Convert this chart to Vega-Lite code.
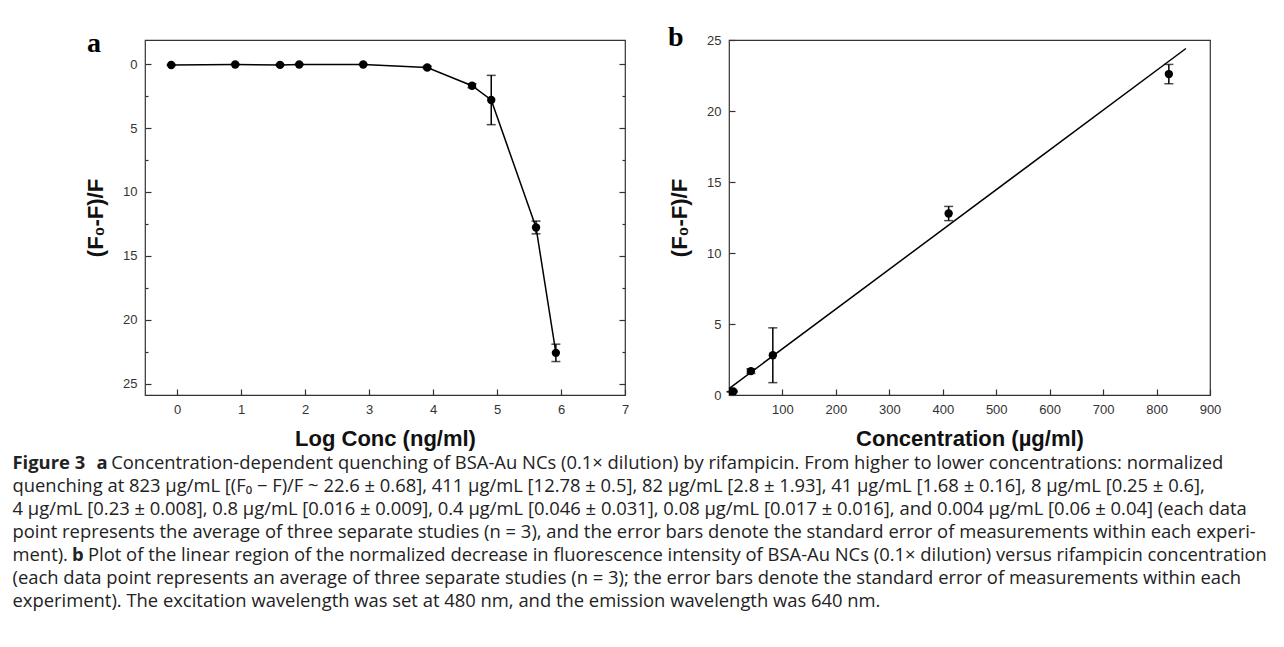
{
  "$schema": "https://vega.github.io/schema/vega-lite/v6.json",
  "background": "white",
  "padding": {"left": 12, "top": 23, "right": 5, "bottom": 5},
  "bounds": "flush",
  "spacing": 412,
  "config": {
    "view": {"stroke": "#333", "strokeWidth": 1.2},
    "axis": {
      "labelFont": "Liberation Sans", "labelFontSize": 13, "labelColor": "#333",
      "titleFont": "Liberation Sans", "titleFontWeight": "bold", "titleFontSize": 22, "titleColor": "#111",
      "domain": false, "grid": false, "tickColor": "#333", "tickWidth": 1.2,
      "labelFlush": false, "labelOverlap": false
    }
  },
  "datasets": {
    "logdata": [
      {"logc": -0.09, "val": 0.06, "lo": 0.02, "hi": 0.10},
      {"logc": 0.91, "val": 0.02, "lo": -0.01, "hi": 0.05},
      {"logc": 1.61, "val": 0.05, "lo": 0.01, "hi": 0.09},
      {"logc": 1.91, "val": 0.02, "lo": -0.01, "hi": 0.05},
      {"logc": 2.91, "val": 0.02, "lo": -0.01, "hi": 0.05},
      {"logc": 3.91, "val": 0.25, "lo": 0.15, "hi": 0.35},
      {"logc": 4.61, "val": 1.68, "lo": 1.52, "hi": 1.84},
      {"logc": 4.91, "val": 2.8, "lo": 0.87, "hi": 4.73},
      {"logc": 5.61, "val": 12.78, "lo": 12.28, "hi": 13.28},
      {"logc": 5.92, "val": 22.6, "lo": 21.92, "hi": 23.28}
    ],
    "lindata": [
      {"conc": 4, "val": 0.23, "lo": 0.22, "hi": 0.24},
      {"conc": 8, "val": 0.25, "lo": 0.2, "hi": 0.3},
      {"conc": 41, "val": 1.68, "lo": 1.52, "hi": 1.84},
      {"conc": 82, "val": 2.8, "lo": 0.87, "hi": 4.73},
      {"conc": 411, "val": 12.78, "lo": 12.28, "hi": 13.28},
      {"conc": 823, "val": 22.6, "lo": 21.92, "hi": 23.28}
    ],
    "fit": [
      {"conc": 0, "val": 0.45},
      {"conc": 855, "val": 24.4}
    ],
    "caption": [
      {"line": 1, "part": "B0", "t": "Figure 3"},
      {"line": 1, "part": "B1", "t": "a"},
      {"line": 1, "part": "R1", "t": "Concentration-dependent quenching of BSA-Au NCs (0.1× dilution) by rifampicin. From higher to lower concentrations: normalized"},
      {"line": 2, "part": "R0", "t": "quenching at 823 µg/mL [(F₀ − F)/F ~ 22.6 ± 0.68], 411 µg/mL [12.78 ± 0.5], 82 µg/mL [2.8 ± 1.93], 41 µg/mL [1.68 ± 0.16], 8 µg/mL [0.25 ± 0.6],"},
      {"line": 3, "part": "R0", "t": "4 µg/mL [0.23 ± 0.008], 0.8 µg/mL [0.016 ± 0.009], 0.4 µg/mL [0.046 ± 0.031], 0.08 µg/mL [0.017 ± 0.016], and 0.004 µg/mL [0.06 ± 0.04] (each data"},
      {"line": 4, "part": "R0", "t": "point represents the average of three separate studies (n = 3), and the error bars denote the standard error of measurements within each experi-"},
      {"line": 5, "part": "R0", "t": "ment)."},
      {"line": 5, "part": "B2", "t": "b"},
      {"line": 5, "part": "R2", "t": "Plot of the linear region of the normalized decrease in fluorescence intensity of BSA-Au NCs (0.1× dilution) versus rifampicin concentration"},
      {"line": 6, "part": "R0", "t": "(each data point represents an average of three separate studies (n = 3); the error bars denote the standard error of measurements within each"},
      {"line": 7, "part": "R0", "t": "experiment). The excitation wavelength was set at 480 nm, and the emission wavelength was 640 nm."}
    ]
  },
  "vconcat": [
    {
      "spacing": 37,
      "hconcat": [
        {
          "width": 480, "height": 355,
          "title": {"text": "a", "anchor": "start", "frame": "group", "font": "Liberation Serif", "fontSize": 28, "fontWeight": "bold", "color": "#000", "dx": -58, "dy": 18, "offset": 0},
          "data": {"name": "logdata"},
          "layer": [
            {
              "mark": {"type": "line", "color": "black", "strokeWidth": 1.5},
              "encoding": {
                "x": {"field": "logc", "type": "quantitative",
                  "scale": {"domain": [-0.5, 7], "nice": false, "zero": false},
                  "axis": {"title": "Log Conc (ng/ml)", "values": [0,0.5,1,1.5,2,2.5,3,3.5,4,4.5,5,5.5,6,6.5,7],
                    "labelExpr": "datum.value % 1 === 0 ? '' + datum.value : ''",
                    "tickSize": {"condition": {"test": "datum.value % 1 === 0", "value": -6}, "value": -3},
                    "labelPadding": 14, "titlePadding": 12}},
                "y": {"field": "val", "type": "quantitative",
                  "scale": {"domain": [-1.9, 25.9], "reverse": true, "nice": false, "zero": false},
                  "axis": {"title": "(F₀-F)/F", "values": [0,2.5,5,7.5,10,12.5,15,17.5,20,22.5,25],
                    "labelExpr": "datum.value % 5 === 0 ? '' + datum.value : ''",
                    "tickSize": {"condition": {"test": "datum.value % 5 === 0", "value": -6}, "value": -3},
                    "labelPadding": 14, "titlePadding": 15}}
              }
            },
            {
              "mark": {"type": "rule", "color": "black", "strokeWidth": 1.5},
              "encoding": {
                "x": {"field": "logc", "type": "quantitative"},
                "y": {"field": "lo", "type": "quantitative", "axis": null},
                "y2": {"field": "hi"}
              }
            },
            {
              "mark": {"type": "tick", "orient": "horizontal", "size": 9, "thickness": 1.5, "color": "black"},
              "encoding": {
                "x": {"field": "logc", "type": "quantitative"},
                "y": {"field": "lo", "type": "quantitative", "axis": null}
              }
            },
            {
              "mark": {"type": "tick", "orient": "horizontal", "size": 9, "thickness": 1.5, "color": "black"},
              "encoding": {
                "x": {"field": "logc", "type": "quantitative"},
                "y": {"field": "hi", "type": "quantitative", "axis": null}
              }
            },
            {
              "mark": {"type": "point", "filled": true, "size": 70, "color": "black", "opacity": 1},
              "encoding": {
                "x": {"field": "logc", "type": "quantitative"},
                "y": {"field": "val", "type": "quantitative", "axis": null}
              }
            },
            {
              "mark": {"type": "point", "opacity": 0},
              "encoding": {
                "x": {"field": "logc", "type": "quantitative"},
                "y": {"field": "val", "type": "quantitative",
                  "axis": {"orient": "right", "title": null, "labels": false, "values": [0,2.5,5,7.5,10,12.5,15,17.5,20,22.5,25],
                    "tickSize": {"condition": {"test": "datum.value % 5 === 0", "value": -6}, "value": -3}}}
              }
            }
          ],
          "resolve": {"axis": {"y": "independent"}}
        },
        {
          "width": 481, "height": 355,
          "title": {"text": "b", "anchor": "start", "frame": "group", "font": "Liberation Serif", "fontSize": 28, "fontWeight": "bold", "color": "#000", "dx": -61, "dy": 18, "offset": 0},
          "layer": [
            {
              "data": {"name": "fit"},
              "mark": {"type": "line", "color": "black", "strokeWidth": 1.5},
              "encoding": {
                "x": {"field": "conc", "type": "quantitative",
                  "scale": {"domain": [0, 900], "nice": false},
                  "axis": {"title": "Concentration (µg/ml)", "values": [0,50,100,150,200,250,300,350,400,450,500,550,600,650,700,750,800,850,900],
                    "labelExpr": "datum.value % 100 === 0 && datum.value > 0 ? '' + datum.value : ''",
                    "tickSize": {"condition": {"test": "datum.value % 100 === 0", "value": -6}, "value": -3},
                    "labelPadding": 14, "titlePadding": 12}},
                "y": {"field": "val", "type": "quantitative",
                  "scale": {"domain": [0, 25], "nice": false},
                  "axis": {"title": "(F₀-F)/F", "values": [0,2.5,5,7.5,10,12.5,15,17.5,20,22.5,25],
                    "labelExpr": "datum.value % 5 === 0 ? '' + datum.value : ''",
                    "tickSize": {"condition": {"test": "datum.value % 5 === 0", "value": -6}, "value": -3},
                    "labelPadding": 14, "titlePadding": 15}}
              }
            },
            {
              "data": {"name": "lindata"},
              "mark": {"type": "rule", "color": "black", "strokeWidth": 1.5},
              "encoding": {
                "x": {"field": "conc", "type": "quantitative"},
                "y": {"field": "lo", "type": "quantitative"},
                "y2": {"field": "hi"}
              }
            },
            {
              "data": {"name": "lindata"},
              "mark": {"type": "tick", "orient": "horizontal", "size": 9, "thickness": 1.5, "color": "black"},
              "encoding": {
                "x": {"field": "conc", "type": "quantitative"},
                "y": {"field": "lo", "type": "quantitative"}
              }
            },
            {
              "data": {"name": "lindata"},
              "mark": {"type": "tick", "orient": "horizontal", "size": 9, "thickness": 1.5, "color": "black"},
              "encoding": {
                "x": {"field": "conc", "type": "quantitative"},
                "y": {"field": "hi", "type": "quantitative"}
              }
            },
            {
              "data": {"name": "lindata"},
              "mark": {"type": "point", "filled": true, "size": 70, "color": "black", "opacity": 1, "clip": true},
              "encoding": {
                "x": {"field": "conc", "type": "quantitative"},
                "y": {"field": "val", "type": "quantitative"}
              }
            }
          ]
        }
      ]
    },
    {
      "width": 1120, "height": 160,
      "view": {"stroke": null},
      "data": {"name": "caption"},
      "encoding": {
        "y": {"field": "line", "type": "ordinal", "axis": null},
        "x": {"value": 0}
      },
      "layer": [
        {"transform": [{"filter": "datum.part === 'R0'"}],
         "mark": {"type": "text", "align": "left", "font": "Open Sans", "fontSize": 18.4, "color": "#222", "dx": -132.5},
         "encoding": {"text": {"field": "t"}}},
        {"transform": [{"filter": "datum.part === 'B0'"}],
         "mark": {"type": "text", "align": "left", "font": "Open Sans", "fontSize": 18.4, "fontWeight": "bold", "color": "#222", "dx": -132.5},
         "encoding": {"text": {"field": "t"}}},
        {"transform": [{"filter": "datum.part === 'B1'"}],
         "mark": {"type": "text", "align": "left", "font": "Open Sans", "fontSize": 18.4, "fontWeight": "bold", "color": "#222", "dx": -48.5},
         "encoding": {"text": {"field": "t"}}},
        {"transform": [{"filter": "datum.part === 'R1'"}],
         "mark": {"type": "text", "align": "left", "font": "Open Sans", "fontSize": 18.4, "color": "#222", "dx": -33.8},
         "encoding": {"text": {"field": "t"}}},
        {"transform": [{"filter": "datum.part === 'B2'"}],
         "mark": {"type": "text", "align": "left", "font": "Open Sans", "fontSize": 18.4, "fontWeight": "bold", "color": "#222", "dx": -73},
         "encoding": {"text": {"field": "t"}}},
        {"transform": [{"filter": "datum.part === 'R2'"}],
         "mark": {"type": "text", "align": "left", "font": "Open Sans", "fontSize": 18.4, "color": "#222", "dx": -57}, 
         "encoding": {"text": {"field": "t"}}}
      ]
    }
  ]
}
